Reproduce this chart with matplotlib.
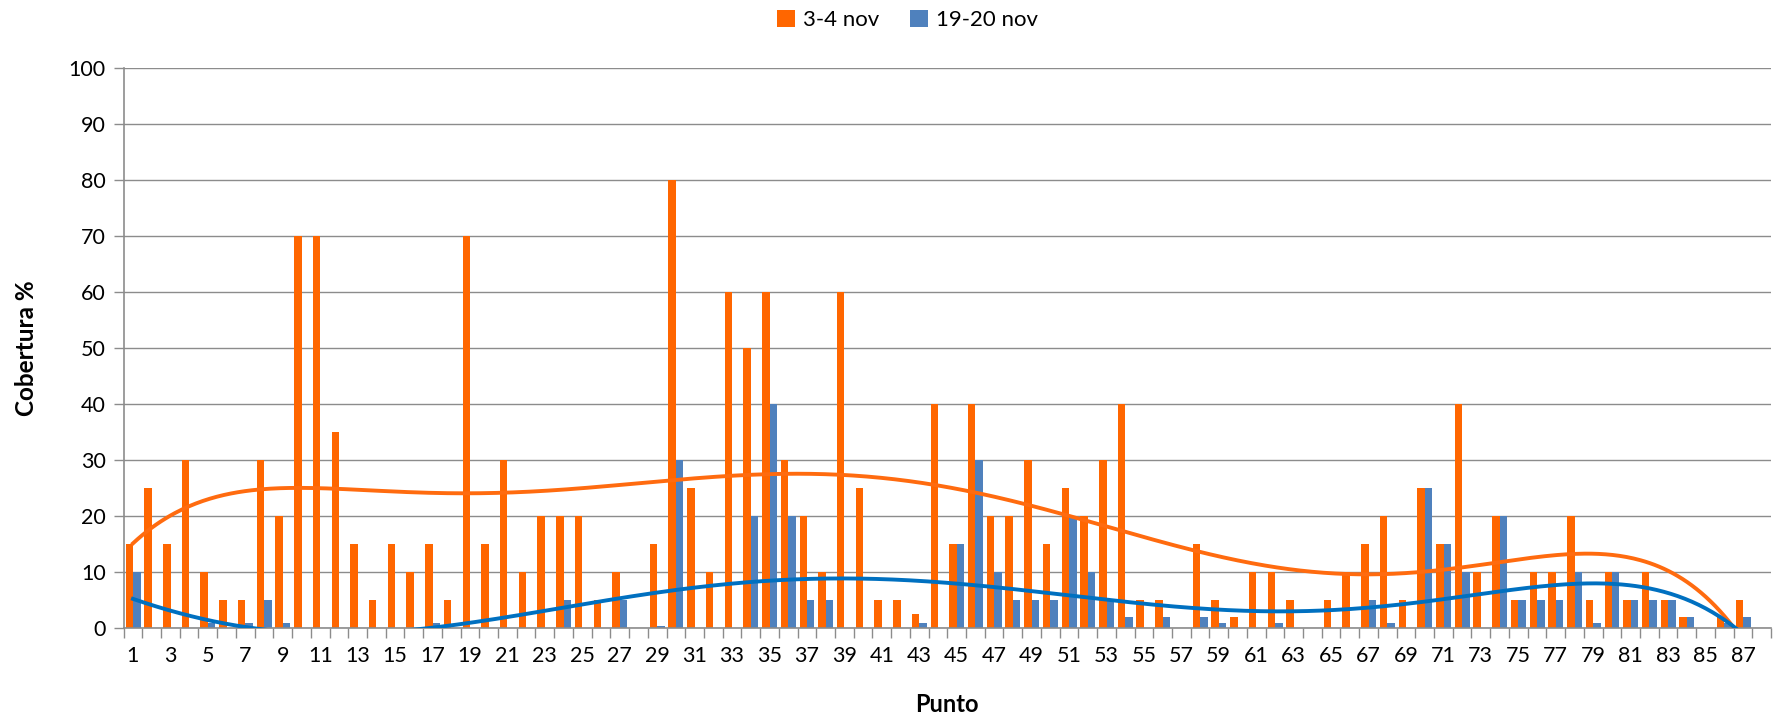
import numpy as np
import matplotlib
matplotlib.use("Agg")
import matplotlib.pyplot as plt
from matplotlib.ticker import FixedLocator, MultipleLocator

# ---- data -------------------------------------------------------------
categories = list(range(1, 89))          # 88 category slots (last one empty)
tick_labels = [str(c) if c % 2 == 1 and c <= 87 else "" for c in categories]

serie_nov3_4 = [15, 25, 15, 30, 10, 5, 5, 30, 20, 70,
                70, 35, 15, 5, 15, 10, 15, 5, 70, 15,
                30, 10, 20, 20, 20, 5, 10, 0, 15, 80,
                25, 10, 60, 50, 60, 30, 20, 10, 60, 25,
                5, 5, 2.5, 40, 15, 40, 20, 20, 30, 15,
                25, 20, 30, 40, 5, 5, 0, 15, 5, 2,
                10, 10, 5, 0, 5, 10, 15, 20, 5, 25,
                15, 40, 10, 20, 5, 10, 10, 20, 5, 10,
                5, 10, 5, 2, 0, 2, 5, 0]

serie_nov19_20 = [10, 0, 0, 0, 1, 0, 1, 5, 1, 0,
                  0, 0, 0, 0, 0, 0, 1, 0, 0, 0,
                  0, 0, 0, 5, 0, 0, 5, 0, 0.5, 30,
                  0, 0, 0, 20, 40, 20, 5, 5, 0, 0,
                  0, 0, 1, 0, 15, 30, 10, 5, 5, 5,
                  20, 10, 5, 2, 0, 2, 0, 2, 1, 0,
                  0, 1, 0, 0, 0, 0, 5, 1, 0, 25,
                  15, 10, 0, 20, 5, 5, 5, 10, 1, 10,
                  5, 5, 5, 2, 0, 1, 2, 0]

series_names = ["3-4 nov", "19-20 nov"]
bar_colors = ["#FF6600", "#4F81BD"]
trend_colors = ["#FF6B0F", "#0070C0"]
trend_degree = 6

# ---- figure -----------------------------------------------------------
plt.rcParams['font.family'] = ['Lato', 'DejaVu Sans']
fig = plt.figure(figsize=(17.76, 7.18), dpi=100)
ax = fig.add_axes([0.0696, 0.1249, 0.9276, 0.7804])

x = np.array(categories, dtype=float)
w = 0.4
ax.bar(x - 0.195, serie_nov3_4, width=w, color=bar_colors[0], label=series_names[0], zorder=2)
ax.bar(x + 0.205, serie_nov19_20, width=w, color=bar_colors[1], label=series_names[1], zorder=2)

# polynomial trend lines (as Excel: order 6, fitted on all category slots)
for vals, col in zip([serie_nov3_4, serie_nov19_20], trend_colors):
    v = np.array(vals, dtype=float)
    coef = np.polyfit(x, v, trend_degree)
    xx = np.linspace(x.min(), x.max(), 700)
    ax.plot(xx, np.polyval(coef, xx), color=col, lw=2.8, zorder=3, clip_on=True)

ax.set_xlim(0.5, len(categories) + 0.5)
ax.set_ylim(0, 100)
ax.yaxis.set_major_locator(MultipleLocator(10))
ax.grid(axis='y', color='#8C8C8C', lw=1.0, zorder=0)
ax.set_axisbelow(True)

ax.set_xticks(x)
ax.set_xticklabels(tick_labels)
ax.xaxis.set_minor_locator(FixedLocator(np.arange(0.5, len(categories) + 1, 1)))
ax.tick_params(axis='x', which='major', length=0, pad=13, labelsize=15.5)
ax.tick_params(axis='x', which='minor', length=7, width=1, color='#8C8C8C', direction='out')
ax.tick_params(axis='y', which='major', length=7, width=1, color='#8C8C8C', labelsize=15.5, pad=6)

for s in ['top', 'right']:
    ax.spines[s].set_visible(False)
for s in ['left', 'bottom']:
    ax.spines[s].set_color('#8C8C8C')
    ax.spines[s].set_linewidth(1.2)

ax.set_xlabel("Punto", fontsize=17, fontweight='bold', labelpad=19)
ax.set_ylabel("Cobertura %", fontsize=17.5, fontweight='bold', labelpad=22)

leg = fig.legend(loc='upper center', bbox_to_anchor=(0.511, 1.014), ncol=2, frameon=False,
                 fontsize=16, handlelength=0.8, handleheight=0.8, handletextpad=0.35,
                 columnspacing=1.4)

fig.savefig("out.png", dpi=100)
